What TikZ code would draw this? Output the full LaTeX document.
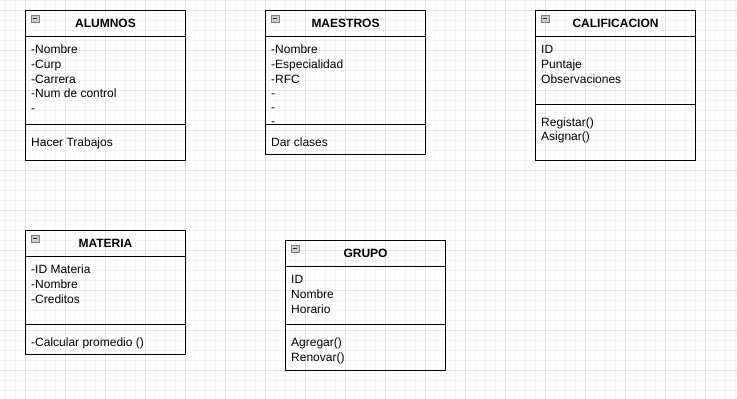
\documentclass[tikz,border=0pt]{standalone}
\usepackage{fontspec}
\setmainfont{Liberation Sans}
\definecolor{gridminor}{HTML}{F4F4F4}
\definecolor{gridmajor}{HTML}{E3E3E3}
\definecolor{togglefill}{HTML}{C9CED6}
\definecolor{togglerim}{HTML}{7A7F88}
\newcommand\umlframe[6]{%
  \draw[classbox] (#1,#2) rectangle (#3,#4);
  \draw[classbox] (#1,#5) -- (#3,#5);
  \draw[classbox] (#1,#6) -- (#3,#6);
  \draw[toggle] (#1+5.5,#2+4.5) rectangle (#1+13.5,#2+11.5);
  \draw[line width=1pt, black!85] (#1+7.3,#2+8) -- (#1+11.7,#2+8);
}
\begin{document}
\begin{tikzpicture}[x=1pt,y=-1pt,
  minorgrid/.style={draw=gridminor, line width=0.8pt},
  majorgrid/.style={draw=gridmajor, line width=0.8pt},
  classbox/.style={draw=black, line width=1pt},
  toggle/.style={draw=togglerim, fill=togglefill, line width=0.6pt},
  title/.style={font=\fontsize{12}{14}\selectfont\bfseries, anchor=base, inner sep=0pt},
  member/.style={font=\fontsize{12}{14}\selectfont, anchor=base west, inner sep=0pt}]

% canvas and grid
\fill[white] (0,0) rectangle (737,399);
\useasboundingbox (0,0) rectangle (737,399);
\foreach \gx in {5.3,15.3,...,737} \draw[minorgrid] (\gx,0) -- (\gx,399);
\foreach \gy in {0.3,10.3,...,399} \draw[minorgrid] (0,\gy) -- (737,\gy);
\foreach \gx in {25.3,65.3,...,737} \draw[majorgrid] (\gx,0) -- (\gx,399);
\foreach \gy in {10.3,50.3,...,399} \draw[majorgrid] (0,\gy) -- (737,\gy);

% ALUMNOS
\umlframe{25.3}{10.3}{185.7}{160}{36.7}{124}
\node[title] (alumnos) at (105.5,27.7) {ALUMNOS};
\node[member] (alumnos-a1) at (31,53.7) {-Nombre};
\node[member] (alumnos-a2) at (31,68.4) {-Curp};
\node[member] (alumnos-a3) at (31,83.0) {-Carrera};
\node[member] (alumnos-a4) at (31,97.7) {-Num de control};
\node[member] (alumnos-a5) at (31,112.4) {-};
\node[member] (alumnos-m1) at (31,146) {Hacer Trabajos};

% MAESTROS
\umlframe{265.3}{10.3}{425.7}{154}{36.7}{124}
\node[title] (maestros) at (345.5,27.7) {MAESTROS};
\node[member] (maestros-a1) at (271,53.7) {-Nombre};
\node[member] (maestros-a2) at (271,68.4) {-Especialidad};
\node[member] (maestros-a3) at (271,83.0) {-RFC};
\node[member] (maestros-a4) at (271,97.4) {-};
\node[member] (maestros-a5) at (271,111.8) {-};
\node[member] (maestros-a6) at (271,125.2) {-};
\node[member] (maestros-m1) at (271,146) {Dar clases};

% CALIFICACION
\umlframe{535.3}{10.3}{695.7}{160}{36.7}{104.3}
\node[title] (calificacion) at (615.5,27.7) {CALIFICACION};
\node[member] (calificacion-a1) at (541,53.7) {ID};
\node[member] (calificacion-a2) at (541,68.4) {Puntaje};
\node[member] (calificacion-a3) at (541,83.0) {Observaciones};
\node[member] (calificacion-m1) at (541,126) {Registar()};
\node[member] (calificacion-m2) at (541,140.7) {Asignar()};

% MATERIA
\umlframe{25.3}{230.3}{185.7}{354}{256.7}{324.3}
\node[title] (materia) at (105.5,247.7) {MATERIA};
\node[member] (materia-a1) at (31,273.7) {-ID Materia};
\node[member] (materia-a2) at (31,288.4) {-Nombre};
\node[member] (materia-a3) at (31,303.0) {-Creditos};
\node[member] (materia-m1) at (31,346.5) {-Calcular promedio ()};

% GRUPO
\umlframe{285.3}{240.3}{445.7}{370}{266.7}{324.3}
\node[title] (grupo) at (365.5,257.7) {GRUPO};
\node[member] (grupo-a1) at (291,283.7) {ID};
\node[member] (grupo-a2) at (291,298.4) {Nombre};
\node[member] (grupo-a3) at (291,313.0) {Horario};
\node[member] (grupo-m1) at (291,346.5) {Agregar()};
\node[member] (grupo-m2) at (291,361.2) {Renovar()};
\end{tikzpicture}
\end{document}
